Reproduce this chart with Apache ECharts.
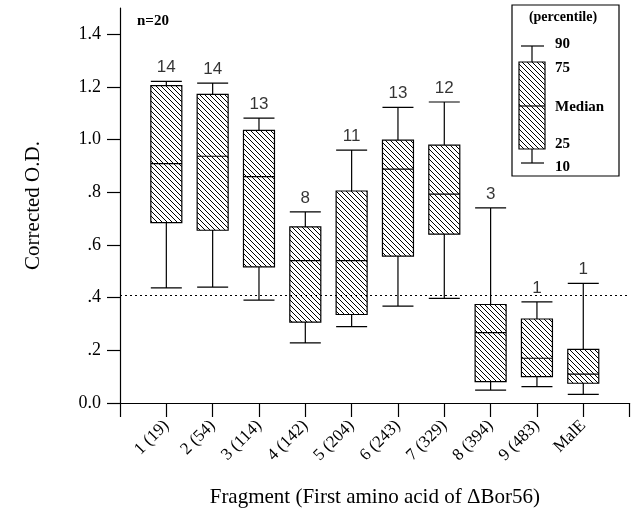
<!DOCTYPE html>
<html><head><meta charset="utf-8">
<script src="https://cdn.jsdelivr.net/npm/echarts@6/dist/echarts.min.js"></script>
<style>html,body{margin:0;padding:0;background:#fff}#c{width:636px;height:518px}</style>
</head><body><div id="c"></div>
<script>
const categories = ['1 (19)','2 (54)','3 (114)','4 (142)','5 (204)','6 (243)','7 (329)','8 (394)','9 (483)','MalE'];
const p10    = [0.437,0.440,0.391,0.228,0.290,0.368,0.397,0.049,0.062,0.033];
const p25    = [0.685,0.656,0.517,0.307,0.336,0.558,0.641,0.081,0.100,0.075];
const median = [0.909,0.937,0.860,0.541,0.541,0.888,0.793,0.267,0.170,0.110];
const p75    = [1.205,1.172,1.035,0.669,0.805,0.998,0.979,0.374,0.319,0.204];
const p90    = [1.221,1.215,1.082,0.726,0.960,1.123,1.143,0.741,0.384,0.454];
const counts = [14,14,13,8,11,13,12,3,1,1];
const cutoff = 0.415;
const yTicks = [0,0.2,0.4,0.6,0.8,1.0,1.2,1.4];

function hatch(){
  const s=5, c=document.createElement('canvas'); c.width=s; c.height=s;
  const g=c.getContext('2d'); g.fillStyle='#fff'; g.fillRect(0,0,s,s);
  g.strokeStyle='#000'; g.lineWidth=1;
  g.beginPath(); g.moveTo(-1,-1); g.lineTo(s+1,s+1); g.moveTo(-1,s-1); g.lineTo(1,s+1); g.moveTo(s-1,-1); g.lineTo(s+1,1); g.stroke();
  return c;
}
const pat = {image: hatch(), repeat: 'repeat'};

const axisCats = [''].concat(categories).concat(['']);
const empty = ['-','-','-','-','-'];
const boxData = [empty].concat(categories.map((_,i)=>[p10[i],p25[i],median[i],p75[i],p90[i]])).concat([empty]);
const labelData = categories.map((_,i)=>[i+1, p90[i], counts[i]]);

const serif = 'Liberation Serif';
const bold = 'bold 15px "Liberation Serif"';
const chart = echarts.init(document.getElementById('c'), null, {renderer:'canvas'});
chart.setOption({
  animation:false,
  grid:{left:120, top:8, right:6.4, bottom:115},
  xAxis:{type:'category', data:axisCats, boundaryGap:false,
    axisLine:{lineStyle:{color:'#000', width:1.2}},
    axisTick:{length:14, lineStyle:{color:'#000', width:1.2}, interval:0},
    axisLabel:{rotate:45, margin:20, interval:0, fontFamily:serif, fontSize:17, color:'#000'},
    name:'Fragment (First amino acid of \u0394Bor56)', nameLocation:'middle', nameGap:84,
    nameTextStyle:{fontFamily:serif, fontSize:21, color:'#000'},
    splitLine:{show:false}},
  yAxis:{type:'value', min:0, max:1.5, interval:0.1,
    axisLine:{show:true, lineStyle:{color:'#000', width:1.2}},
    axisTick:{show:true, length:13, customValues:yTicks, lineStyle:{color:'#000', width:1.2}},
    axisLabel:{customValues:yTicks, margin:19, fontFamily:serif, fontSize:18, color:'#000',
      formatter:v=> v===0?'0.0':(v>=1? v.toFixed(1): v.toFixed(1).replace(/^0/,''))},
    splitLine:{show:false},
    name:'Corrected O.D.', nameLocation:'middle', nameGap:76,
    nameTextStyle:{fontFamily:serif, fontSize:21, color:'#000'}},
  series:[
    {type:'boxplot', data:boxData, boxWidth:[31,31],
      itemStyle:{color:pat, borderColor:'#000', borderWidth:1.2},
      emphasis:{disabled:true},
      markLine:{silent:true, symbol:'none', label:{show:false},
        lineStyle:{type:[2,3], color:'#000', width:1}, data:[{yAxis:cutoff}]}},
    {type:'scatter', data:labelData, symbolSize:1, itemStyle:{color:'rgba(0,0,0,0)'},
      label:{show:true, position:'top', distance:5, formatter:p=>String(p.value[2]),
        fontFamily:'Liberation Sans', fontSize:17, color:'#000'}}
  ],
  graphic:[
    {type:'text', left:137, top:14, style:{text:'n=20', font:'bold 15px "Liberation Serif"', fill:'#000'}},
    {type:'rect', shape:{x:512, y:5, width:107, height:171}, style:{fill:'#fff', stroke:'#000', lineWidth:1.2}},
    {type:'text', x:563, y:17, style:{text:'(percentile)', font:'bold 14px "Liberation Serif"', fill:'#000', align:'center', verticalAlign:'middle'}},
    {type:'line', shape:{x1:532, y1:46, x2:532, y2:62}, style:{stroke:'#000', lineWidth:1.2}},
    {type:'line', shape:{x1:521, y1:46, x2:544, y2:46}, style:{stroke:'#000', lineWidth:1.2}},
    {type:'rect', shape:{x:519, y:62, width:26, height:87}, style:{fill:pat, stroke:'#000', lineWidth:1.2}},
    {type:'line', shape:{x1:519, y1:106, x2:545, y2:106}, style:{stroke:'#000', lineWidth:1.2}},
    {type:'line', shape:{x1:532, y1:149, x2:532, y2:163}, style:{stroke:'#000', lineWidth:1.2}},
    {type:'line', shape:{x1:521, y1:163, x2:544, y2:163}, style:{stroke:'#000', lineWidth:1.2}},
    {type:'text', x:555, y:44, style:{text:'90', font:bold, fill:'#000', verticalAlign:'middle'}},
    {type:'text', x:555, y:68, style:{text:'75', font:bold, fill:'#000', verticalAlign:'middle'}},
    {type:'text', x:555, y:107, style:{text:'Median', font:bold, fill:'#000', verticalAlign:'middle'}},
    {type:'text', x:555, y:144, style:{text:'25', font:bold, fill:'#000', verticalAlign:'middle'}},
    {type:'text', x:555, y:167, style:{text:'10', font:bold, fill:'#000', verticalAlign:'middle'}}
  ]
});
</script></body></html>
